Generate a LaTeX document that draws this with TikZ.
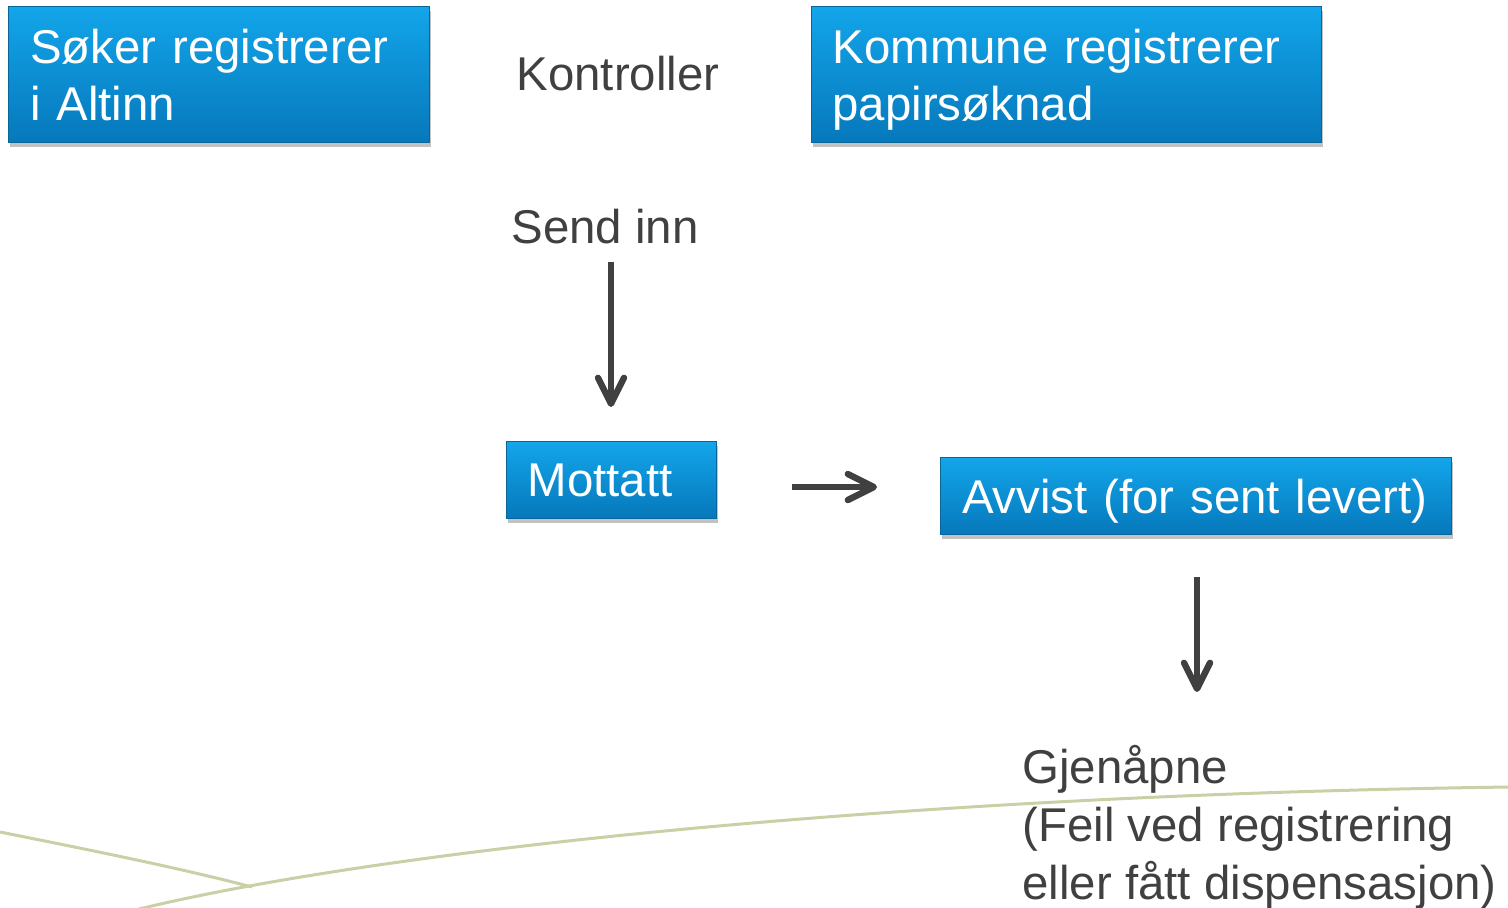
\documentclass[tikz,border=0pt]{standalone}
\usepackage{fontspec}
\setmainfont{Liberation Sans}
\usetikzlibrary{arrows.meta,shadows}
\definecolor{boxTop}{HTML}{13A5EA}
\definecolor{boxBot}{HTML}{0678BB}
\definecolor{boxEdge}{HTML}{0A6699}
\definecolor{textGray}{HTML}{404040}
\definecolor{lineGreen}{HTML}{C9D0A6}

\begin{document}
\begin{tikzpicture}[x=0.5pt,y=-0.5pt,
    status/.style={draw=boxEdge, line width=0.6pt, top color=boxTop, bottom color=boxBot,
      text=white, anchor=north west, align=left, inner xsep=10.5pt,
      font=\fontsize{23.7}{28.5}\selectfont,
      drop shadow={shadow xshift=0.6pt, shadow yshift=-2pt, opacity=0.4, fill=black!60}},
    label/.style={text=textGray, inner sep=0pt, font=\fontsize{23.7}{29}\selectfont},
    arr/.style={draw=textGray, line width=3.2pt, -{Straight Barb[length=13pt, width=13pt, round]}},
    greenline/.style={draw=lineGreen, line width=1.5pt}]
		\useasboundingbox (0,0) rectangle (1508,907);
		% background curves
		\draw[greenline] (0,832) .. controls (90,850) and (180,868) .. (252,887);
		\draw[greenline] (135,910) .. controls (380,850) and (900,795) .. (1510,787);
		% boxes
		\node[status, minimum width=210.5pt, minimum height=68pt, text width=189pt, text depth=28.5pt] (altinn) at (8,6) {Søker registrerer\\i Altinn};
		\node[status, minimum width=255pt, minimum height=68pt, text width=234pt, text depth=28.5pt] (papir) at (811,6) {Kommune registrerer\\papirsøknad};
		\node[status, minimum width=105pt, minimum height=38.5pt, text width=84pt, text depth=0pt] (mottatt) at (506,441) {Mottatt};
		\node[status, minimum width=255.5pt, minimum height=38.5pt, text width=234pt, text depth=0pt] (avvist) at (940,457) {Avvist (for sent levert)};
		% texts
		\node[label] (kontroller) at (618,74) {Kontroller};
		\node[label] (sendinn) at (605,227) {Send inn};
		\node[label, anchor=north west, align=left] (gjenapne) at (1022,745) {Gjenåpne\\(Feil ved registrering\\eller fått dispensasjon)};
		% arrows
		\coordinate (a1s) at (611,262); \coordinate (a1e) at (611,407);
		\coordinate (a2s) at (792,487); \coordinate (a2e) at (877,487);
		\coordinate (a3s) at (1197,577); \coordinate (a3e) at (1197,692);
		\draw[arr] (a1s) -- (a1e);
		\draw[arr] (a2s) -- (a2e);
		\draw[arr] (a3s) -- (a3e);
\end{tikzpicture}
\end{document}
